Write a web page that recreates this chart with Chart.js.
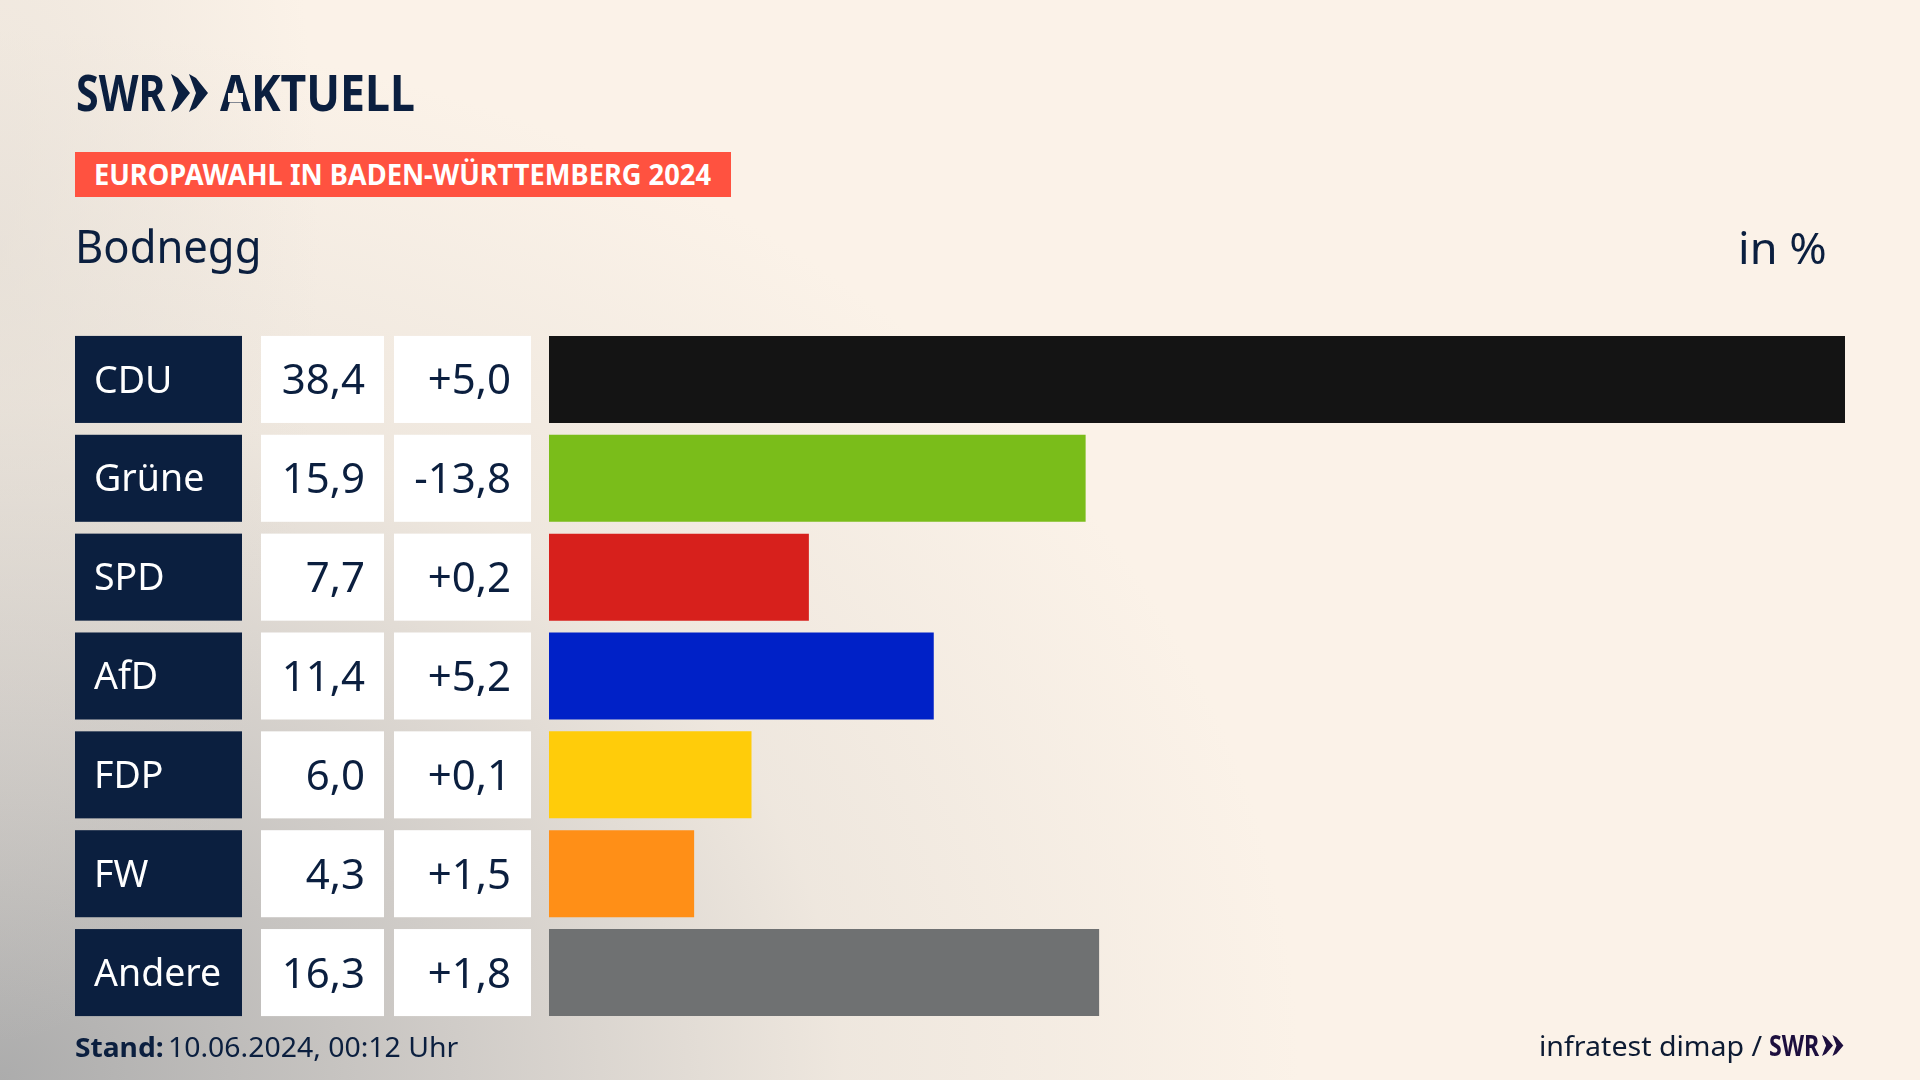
<!DOCTYPE html>
<html lang="de"><head><meta charset="utf-8">
<script src="https://cdn.jsdelivr.net/npm/chart.js@4"></script>
<style>
html,body{margin:0;padding:0;width:1920px;height:1080px;overflow:hidden}
body{position:relative;background:
 radial-gradient(ellipse 320px 800px at 0 250px,rgba(222,216,208,.5) 0%,rgba(222,216,208,0) 100%),
 radial-gradient(ellipse 1300px 1050px at 0 1080px,rgba(172,172,172,1) 0%,rgba(200,197,194,.85) 35%,rgba(228,222,214,.55) 65%,rgba(251,242,232,0) 100%),
 #fbf2e8;font-family:"Noto Sans",sans-serif;color:#0b1f3f}
canvas{position:absolute;left:0;top:0}
.t{position:absolute;white-space:nowrap;line-height:1;transform-origin:0 0}
#banner{position:absolute;left:75px;top:152px;width:656px;height:45px;background:#ff5240}
svg{position:absolute;overflow:visible}
</style></head><body>
<canvas id="c" width="1920" height="1080"></canvas>
<div id="banner"></div>
<span class="t" data-l="78" data-b="111" data-w="88" style="font-size:50px;font-weight:700">SWR</span>
<svg style="left:171px;top:74px" width="38" height="38" viewBox="0 0 38 38"><path fill="#0b1f3f" d="M0 0L7 4L19 19L7 34L0 38L7 19ZM18 0L25 4L37 19L25 34L18 38L25 19Z"/></svg>
<span class="t" data-l="220" data-b="111" data-w="194" style="font-size:50px;font-weight:700">AKTUELL</span>
<div style="position:absolute;left:228px;top:93px;width:15px;height:9px;background:#faf1e7"></div>
<span class="t" data-l="96" data-b="185" data-w="615" style="font-size:28px;font-weight:700;color:#fff">EUROPAWAHL IN BADEN-WÜRTTEMBERG 2024</span>
<span class="t" data-l="79" data-b="263" data-w="179" style="font-size:45px">Bodnegg</span>
<span class="t" data-l="1741.5" data-b="264" data-w="84" style="font-size:44px">in %</span>
<span class="t" data-l="76.5" data-b="1057" data-w="87" style="font-size:27px;font-weight:700">Stand:</span>
<span class="t" data-l="170" data-b="1057" data-w="288" style="font-size:27px">10.06.2024, 00:12 Uhr</span>
<span class="t" data-l="1541.5" data-b="1056" data-w="221" style="font-size:27px;color:#0d1b33">infratest dimap /</span>
<span class="t" data-l="1770" data-b="1056" data-w="50" style="font-size:28px;font-weight:700;color:#1d0f3e">SWR</span>
<svg style="left:1822px;top:1035px" width="22" height="21" viewBox="0 0 38 38" preserveAspectRatio="none"><path fill="#1d0f3e" d="M0 0L7 4L19 19L7 34L0 38L7 19ZM18 0L25 4L37 19L25 34L18 38L25 19Z"/></svg>
<script>
const parties=["CDU","Grüne","SPD","AfD","FDP","FW","Andere"];
const shares=[38.4,15.9,7.7,11.4,6.0,4.3,16.3];
const changes=[5.0,-13.8,0.2,5.2,0.1,1.5,1.8];
const barColors=["#141414","#7abd1a","#d7201c","#0021c7","#ffcc0a","#ff8f17","#6f7172"];

const fmtShare=v=>v.toFixed(1).replace(".",",");
const fmtChange=v=>(v>0?"+":"")+v.toFixed(1).replace(".",",");

const FONT='42px "Noto Sans"';
const rowBoxes={
  id:"rowBoxes",
  afterUpdate(chart){
    const s=chart.scales.y;
    s.getLabelItems(chart.chartArea).forEach(it=>{it.textOffset+=2.5;});
  },
  beforeDraw(chart){
    const ctx=chart.ctx,meta=chart.getDatasetMeta(0);
    ctx.save();
    meta.data.forEach((bar,i)=>{
      const top=bar.y-bar.height/2,h=bar.height;
      ctx.fillStyle="#0b1f3f";ctx.fillRect(75,top,167,h);
      ctx.fillStyle="#ffffff";ctx.fillRect(261,top,123,h);ctx.fillRect(394,top,137,h);
      ctx.fillStyle="#0b1f3f";ctx.font=FONT;ctx.textAlign="right";ctx.textBaseline="alphabetic";
      ctx.fillText(fmtShare(shares[i]),365,bar.y+15);
      ctx.fillText(fmtChange(changes[i]),511,bar.y+15);
    });
    ctx.restore();
  }
};

new Chart(document.getElementById("c"),{
  type:"bar",
  data:{labels:parties,datasets:[{data:shares,backgroundColor:barColors,borderWidth:0,barPercentage:87/98.83,categoryPercentage:1}]},
  plugins:[rowBoxes],
  options:{
    indexAxis:"y",responsive:false,animation:false,devicePixelRatio:1,
    layout:{padding:{left:94,right:75,top:330,bottom:58}},
    plugins:{legend:{display:false},title:{display:false},tooltip:{enabled:false}},
    scales:{
      x:{display:false,min:0,max:Math.max(...shares)},
      y:{
        afterFit(a){a.width=455;},
        grid:{display:false,drawTicks:false},border:{display:false},
        ticks:{crossAlign:"far",padding:0,color:"#ffffff",font:{family:"Noto Sans",size:37.5}}
      }
    }
  }
});

document.querySelectorAll(".t").forEach(el=>{
  const fs=parseFloat(getComputedStyle(el).fontSize);
  const ctx=document.createElement("canvas").getContext("2d");
  const cs=getComputedStyle(el);
  ctx.font=cs.fontWeight+" "+fs+'px "Noto Sans"';
  const m=ctx.measureText(el.textContent);
  const sx=(+el.dataset.w)/(m.actualBoundingBoxRight+m.actualBoundingBoxLeft);
  el.style.left=(+el.dataset.l+m.actualBoundingBoxLeft*sx)+"px";
  const asc=m.fontBoundingBoxAscent,desc=m.fontBoundingBoxDescent;
  const base=(fs-(asc+desc))/2+asc;
  el.style.top=(+el.dataset.b-base)+"px";
  el.style.transform="scaleX("+sx+")";
});
</script>
</body></html>
